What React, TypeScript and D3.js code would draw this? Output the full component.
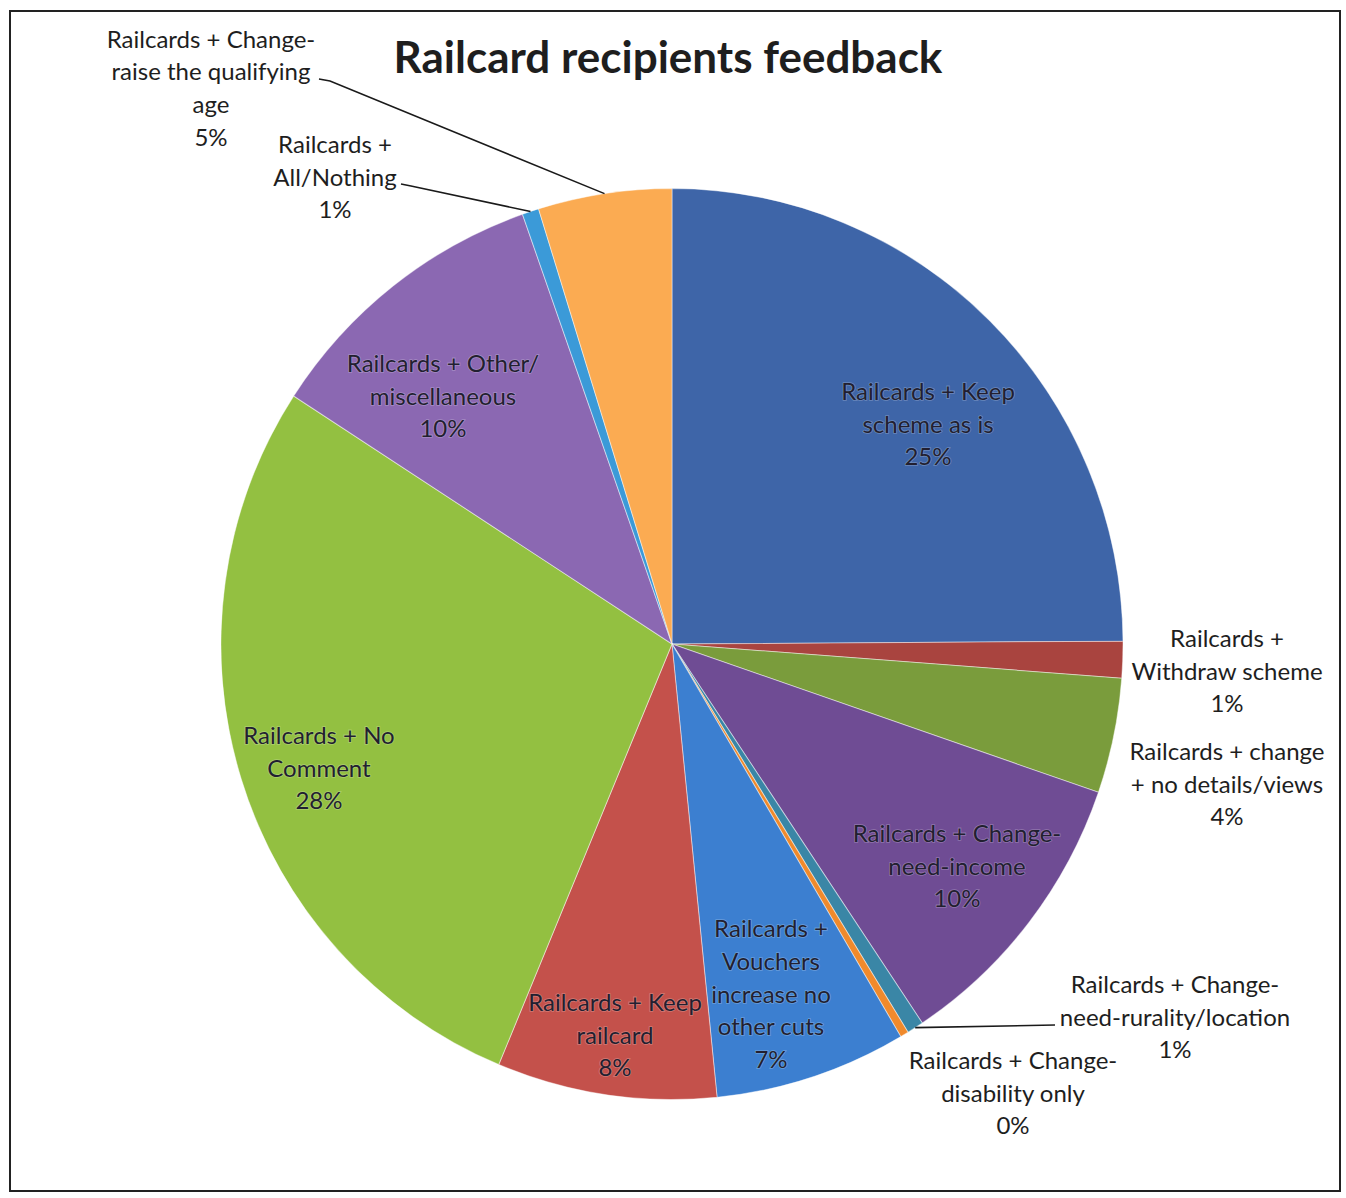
import React from "react";
import * as d3 from "d3";

// ---- Data ----
const categories = [
  "Railcards + Keep scheme as is",
  "Railcards + Withdraw scheme",
  "Railcards + change + no details/views",
  "Railcards + Change-need-income",
  "Railcards + Change-need-rurality/location",
  "Railcards + Change-disability only",
  "Railcards + Vouchers increase no other cuts",
  "Railcards + Keep railcard",
  "Railcards + No Comment",
  "Railcards + Other/miscellaneous",
  "Railcards + All/Nothing",
  "Railcards + Change-raise the qualifying age",
];
const values = [25.0, 1.3, 4.1, 10.4, 0.6, 0.3, 6.9, 7.9, 28.0, 10.5, 0.6, 4.8];
const labelLines = [
  ["Railcards + Keep", "scheme as is"],
  ["Railcards +", "Withdraw scheme"],
  ["Railcards + change", "+ no details/views"],
  ["Railcards + Change-", "need-income"],
  ["Railcards + Change-", "need-rurality/location"],
  ["Railcards + Change-", "disability only"],
  ["Railcards +", "Vouchers", "increase no", "other cuts"],
  ["Railcards + Keep", "railcard"],
  ["Railcards + No", "Comment"],
  ["Railcards + Other/", "miscellaneous"],
  ["Railcards +", "All/Nothing"],
  ["Railcards + Change-", "raise the qualifying", "age"],
];
const colors = [
  "#3e65a8", "#a9443f", "#7a9c3c", "#6f4c94", "#3a86a6", "#f08a2c",
  "#3c7fd0", "#c4514b", "#93c041", "#8b68b2", "#3b9ad8", "#fbab52",
];
const title = "Railcard recipients feedback";

// ---- Layout (label placement, like Excel's manual label positions) ----
const inside = [true, false, false, true, false, false, true, true, true, true, false, false];
const labelCenter: [number, number][] = [
  [928, 424], [1227, 671], [1227, 784], [957, 866], [1175, 1017], [1013, 1093],
  [771, 994], [615, 1035], [319, 768], [443, 396], [335, 177], [211, 88],
];
// leader line start points (only for labels that have one)
const leaderStart: (null | [number, number][])[] = [
  null, null, null, null, [[1055, 1025]], null, null, null, null, null,
  [[401, 184], [411, 186]],
  [[319, 79], [330, 81]],
];

const W = 1346;
const H = 1198;
const cx = 672;
const cy = 644;
const R = 451;
const SY = 1.01; // slight vertical stretch of the scanned page
const LINE = 32.7;
const FS = 24;

export default function App() {
  const total = d3.sum(values);
  const pie = d3
    .pie<number>()
    .sort(null)
    .value((d) => d)
    .startAngle(0)
    .endAngle(2 * Math.PI);
  const arcs = pie(values);
  const arc = d3.arc<d3.PieArcDatum<number>>().innerRadius(0).outerRadius(R);
  const fmt = (v: number) => `${Math.round((v / total) * 100)}%`;
  const font = "Lato, 'Open Sans', sans-serif";

  return (
    <svg
      width={W}
      height={H}
      style={{ position: "absolute", left: 0, top: 0, background: "#fff" }}
    >
      <rect x={0} y={0} width={W} height={H} fill="#fff" />
      <rect
        x={10}
        y={11}
        width={1330}
        height={1180}
        fill="none"
        stroke="#222"
        strokeWidth={2}
      />
      <text
        x={668}
        y={73}
        textAnchor="middle"
        fontFamily={font}
        fontWeight={700}
        fontSize={44}
        fill="#1e1e1e"
      >
        {title}
      </text>
      <g transform={`translate(${cx},${cy}) scale(1,${SY})`}>
        {arcs.map((a, i) => (
          <path
            key={categories[i]}
            d={arc(a) || ""}
            fill={colors[i]}
            stroke="rgba(255,255,255,0.45)"
            strokeWidth={1}
          />
        ))}
      </g>
      {arcs.map((a, i) => {
        const st = leaderStart[i];
        if (!st) return null;
        const mid = (a.startAngle + a.endAngle) / 2;
        const ex = cx + R * Math.sin(mid);
        const ey = cy - R * SY * Math.cos(mid);
        const pts = [...st, [ex, ey]];
        return (
          <polyline
            key={"l" + i}
            points={pts.map((p) => p.join(",")).join(" ")}
            fill="none"
            stroke="#1a1a1a"
            strokeWidth={1.6}
          />
        );
      })}
      {arcs.map((a, i) => {
        const lines = [...labelLines[i], fmt(values[i])];
        const [lx, ly] = labelCenter[i];
        const n = lines.length;
        const top = ly - ((n - 1) * LINE) / 2;
        const isIn = inside[i];
        return (
          <text
            key={"t" + i}
            textAnchor="middle"
            fontFamily={font}
            fontSize={FS}
            fill={isIn ? "#221f30" : "#1e1e1e"}
            stroke={isIn ? "rgba(255,255,255,0.25)" : "none"}
            strokeWidth={isIn ? 1.6 : 0}
            style={{ paintOrder: "stroke" }}
          >
            {lines.map((t, j) => (
              <tspan key={j} x={lx} y={top + j * LINE + FS * 0.36}>
                {t}
              </tspan>
            ))}
          </text>
        );
      })}
    </svg>
  );
}
